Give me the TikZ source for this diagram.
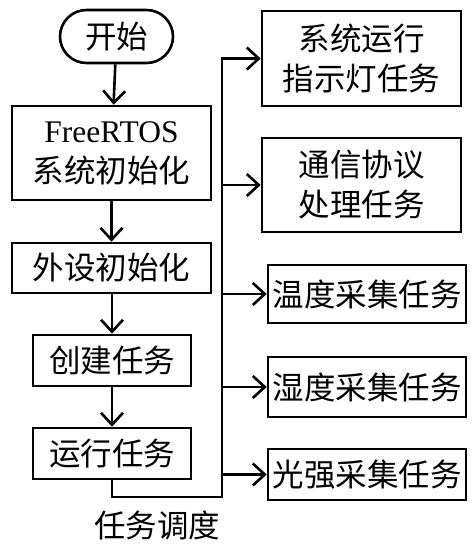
\documentclass[tikz,border=0pt]{standalone}
\usepackage{fontspec}
\setmainfont{Liberation Serif}
\newfontfamily\cjk{Noto Sans CJK SC}
\usetikzlibrary{arrows.meta,shapes.misc}
\begin{document}
\begin{tikzpicture}[x=1pt,y=-1pt,
  line width=2.6pt,
  every node/.style={font=\cjk\fontsize{31.5}{40}\selectfont, inner sep=0pt},
  box/.style={draw, rectangle, align=center},
  arr/.style={-{Straight Barb[length=12pt,width=22pt,line width=2.6pt]}}]
\useasboundingbox[fill=white] (0,0) rectangle (476,552);
% left column
\node[draw, rounded rectangle, minimum width=113pt, minimum height=53pt] (s) at (116.5,36.5) {开始};
\node[box, minimum width=199pt, minimum height=94pt] (b1) at (111.5,153) {{\rmfamily FreeRTOS}\\系统初始化};
\node[box, minimum width=199pt, minimum height=50pt] (b2) at (111.5,268) {外设初始化};
\node[box, minimum width=158pt, minimum height=51pt] (b3) at (112,360.5) {创建任务};
\node[box, minimum width=158pt, minimum height=51pt] (b4) at (112,453.5) {运行任务};
% right column
\node[box, minimum width=199pt, minimum height=95pt] (r1) at (361.5,58.5) {系统运行\\指示灯任务};
\node[box, minimum width=199pt, minimum height=94pt] (r2) at (361.5,185) {通信协议\\处理任务};
\node[box, minimum width=198pt, minimum height=58pt] (r3) at (367,294) {温度采集任务};
\node[box, minimum width=198pt, minimum height=60pt] (r4) at (367,387) {湿度采集任务};
\node[box, minimum width=198pt, minimum height=51pt] (r5) at (367,474.5) {光强采集任务};
\node (lab) at (157,525) {任务调度};
\coordinate (bt) at (222,497);
% connectors
\draw[arr] (s) -- (b1);
\draw[arr] (b1) -- (b2);
\draw[arr] (b2.south -| b3.north) -- (b3);
\draw[arr] (b3) -- (b4);
\draw[arr] (b4.south) |- (bt) |- (r1.west);
\draw[arr] (r2.west -| bt) -- (r2.west);
\draw[arr] (r3.west -| bt) -- (r3.west);
\draw[arr] (r4.west -| bt) -- (r4.west);
\draw[arr] (r5.west -| bt) -- (r5.west);
\end{tikzpicture}
\end{document}
